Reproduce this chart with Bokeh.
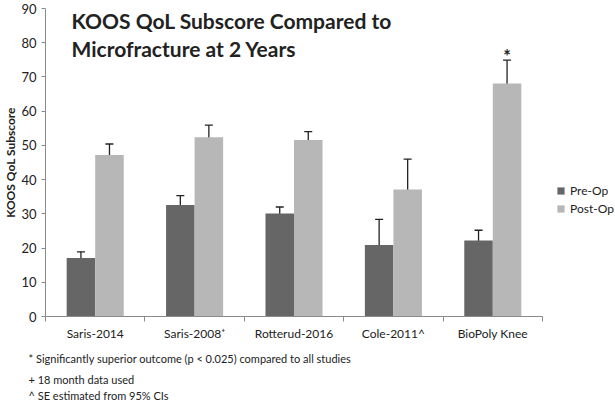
from bokeh.plotting import figure
from bokeh.models import (Range1d, ColumnDataSource, Whisker, TeeHead, LinearAxis,
                          FixedTicker, Legend, LegendItem, Label, Title)
from bokeh.transform import dodge
from bokeh.core.properties import value
from bokeh.embed import file_html
from bokeh.resources import INLINE

# ---- data ----
categories = ["Saris-2014", "Saris-2008\u207a", "Rotterud-2016", "Cole-2011^", "BioPoly Knee"]
pre = [17.1, 32.6, 30.1, 20.9, 22.2]
pre_lo = [15.5, 30.0, 28.4, 13.3, 19.3]
pre_hi = [18.9, 35.3, 32.0, 28.4, 25.2]
post = [47.2, 52.4, 51.6, 37.1, 68.1]
post_lo = [43.9, 48.9, 49.3, 28.2, 61.3]
post_hi = [50.4, 55.9, 54.0, 46.0, 74.9]
significance = ["", "", "", "", "*"]
y_ticks = [0, 10, 20, 30, 40, 50, 60, 70, 80, 90]
title_lines = ["KOOS QoL Subscore Compared to", "Microfracture at 2 Years"]
y_label = "KOOS QoL Subscore"
footnotes = [
    "* Significantly superior outcome (p < 0.025) compared to all studies",
    "+ 18 month data used",
    "^ SE estimated from 95% CIs",
]

FONT = "Lato"
PRE_COLOR = "#666666"
POST_COLOR = "#b7b7b7"
AXIS_COLOR = "#8a8a8a"
TEXT_COLOR = "#222222"
OFF = 0.1435
BW = 0.287
FW, FH = 497, 308

n = len(categories)
centers = [i + 0.5 for i in range(n)]
src = ColumnDataSource(dict(x=centers, cat=categories, pre=pre, pre_lo=pre_lo, pre_hi=pre_hi,
                            post=post, post_lo=post_lo, post_hi=post_hi))
sig_idx = [i for i, s in enumerate(significance) if s]
sig_src = ColumnDataSource(dict(x=[centers[i] for i in sig_idx],
                                y=[post_hi[i] for i in sig_idx],
                                t=[significance[i] for i in sig_idx]))

p = figure(x_range=Range1d(0, n), y_range=Range1d(0, 90),
           frame_width=FW, frame_height=FH, output_backend="svg", toolbar_location=None,
           x_axis_location=None, min_border_left=0, min_border_right=0,
           min_border_top=8, min_border_bottom=0)
p.outline_line_color = None
p.grid.grid_line_color = None
p.background_fill_color = "white"

# y axis
ya = p.yaxis[0]
ya.ticker = FixedTicker(ticks=y_ticks)
ya.axis_label = y_label
ya.axis_label_text_font = FONT
ya.axis_label_text_font_style = "bold"
ya.axis_label_text_font_size = "12px"
ya.axis_label_text_color = TEXT_COLOR
ya.axis_label_standoff = 0
ya.major_label_text_font = FONT
ya.major_label_text_font_size = "13px"
ya.major_label_text_color = TEXT_COLOR
ya.major_label_standoff = 5
ya.major_tick_in = 0
ya.major_tick_out = 4
ya.minor_tick_line_color = None
ya.axis_line_color = AXIS_COLOR
ya.major_tick_line_color = AXIS_COLOR

# x axes: boundary ticks + category labels
tick_axis = LinearAxis(ticker=FixedTicker(ticks=list(range(n + 1))),
                       major_label_overrides={i: "" for i in range(n + 1)},
                       major_label_standoff=0, major_label_text_font_size="1px",
                       major_tick_in=0, major_tick_out=5, minor_tick_line_color=None,
                       axis_line_color=AXIS_COLOR, major_tick_line_color=AXIS_COLOR)
p.add_layout(tick_axis, "below")
cat_axis = LinearAxis(ticker=FixedTicker(ticks=centers),
                      major_label_overrides={c: lab for c, lab in zip(centers, categories)},
                      axis_line_color=None, major_tick_line_color=None, minor_tick_line_color=None,
                      major_tick_in=0, major_tick_out=0,
                      major_label_text_font=FONT, major_label_text_font_size="12px",
                      major_label_text_color=TEXT_COLOR, major_label_standoff=4)
p.add_layout(cat_axis, "below")

# bars
r_pre = p.vbar(x=dodge("x", -OFF), top="pre", width=BW, source=src,
               fill_color=PRE_COLOR, line_color=None)
r_post = p.vbar(x=dodge("x", OFF), top="post", width=BW, source=src,
                fill_color=POST_COLOR, line_color=None)

for off, lo, hi in [(-OFF, "pre_lo", "pre_hi"), (OFF, "post_lo", "post_hi")]:
    w = Whisker(base=dodge("x", off), lower=lo, upper=hi, source=src,
                line_color="#222222", line_width=1.3,
                upper_head=TeeHead(size=8, line_color="#222222", line_width=1.3),
                lower_head=TeeHead(size=8, line_color="#222222", line_width=1.3))
    p.add_layout(w)

p.text(x=dodge("x", OFF), y="y", text="t", source=sig_src,
       text_align="center", text_baseline="bottom", y_offset=7,
       text_font=value(FONT), text_font_size="18px", text_font_style="bold",
       text_color=TEXT_COLOR)

# title inside plot (two lines)
for k, line in enumerate(title_lines):
    p.add_layout(Label(x=26, y=FH - 12 - 28 * k, x_units="screen", y_units="screen", text=line,
                       text_font=FONT, text_font_style="bold", text_font_size="21px",
                       text_color=TEXT_COLOR, text_baseline="middle"))

# legend
legend = Legend(items=[LegendItem(label="Pre-Op", renderers=[r_pre]),
                       LegendItem(label="Post-Op", renderers=[r_post])],
                location=(14, 100), border_line_color=None, background_fill_alpha=0,
                glyph_width=9, glyph_height=9, label_text_font=FONT,
                label_text_font_size="12px", label_text_color=TEXT_COLOR,
                label_standoff=5, spacing=3, padding=0, margin=7)
p.add_layout(legend, "right")

# footnotes
for i, fn in enumerate(footnotes):
    t = Title(text=fn, align="left", text_font=FONT, text_font_size="11px",
              text_font_style="normal", text_color=TEXT_COLOR, offset=-17,
              standoff=1 if i else 12)
    p.add_layout(t, "below")

open("out.html", "w").write(file_html(p, INLINE))
